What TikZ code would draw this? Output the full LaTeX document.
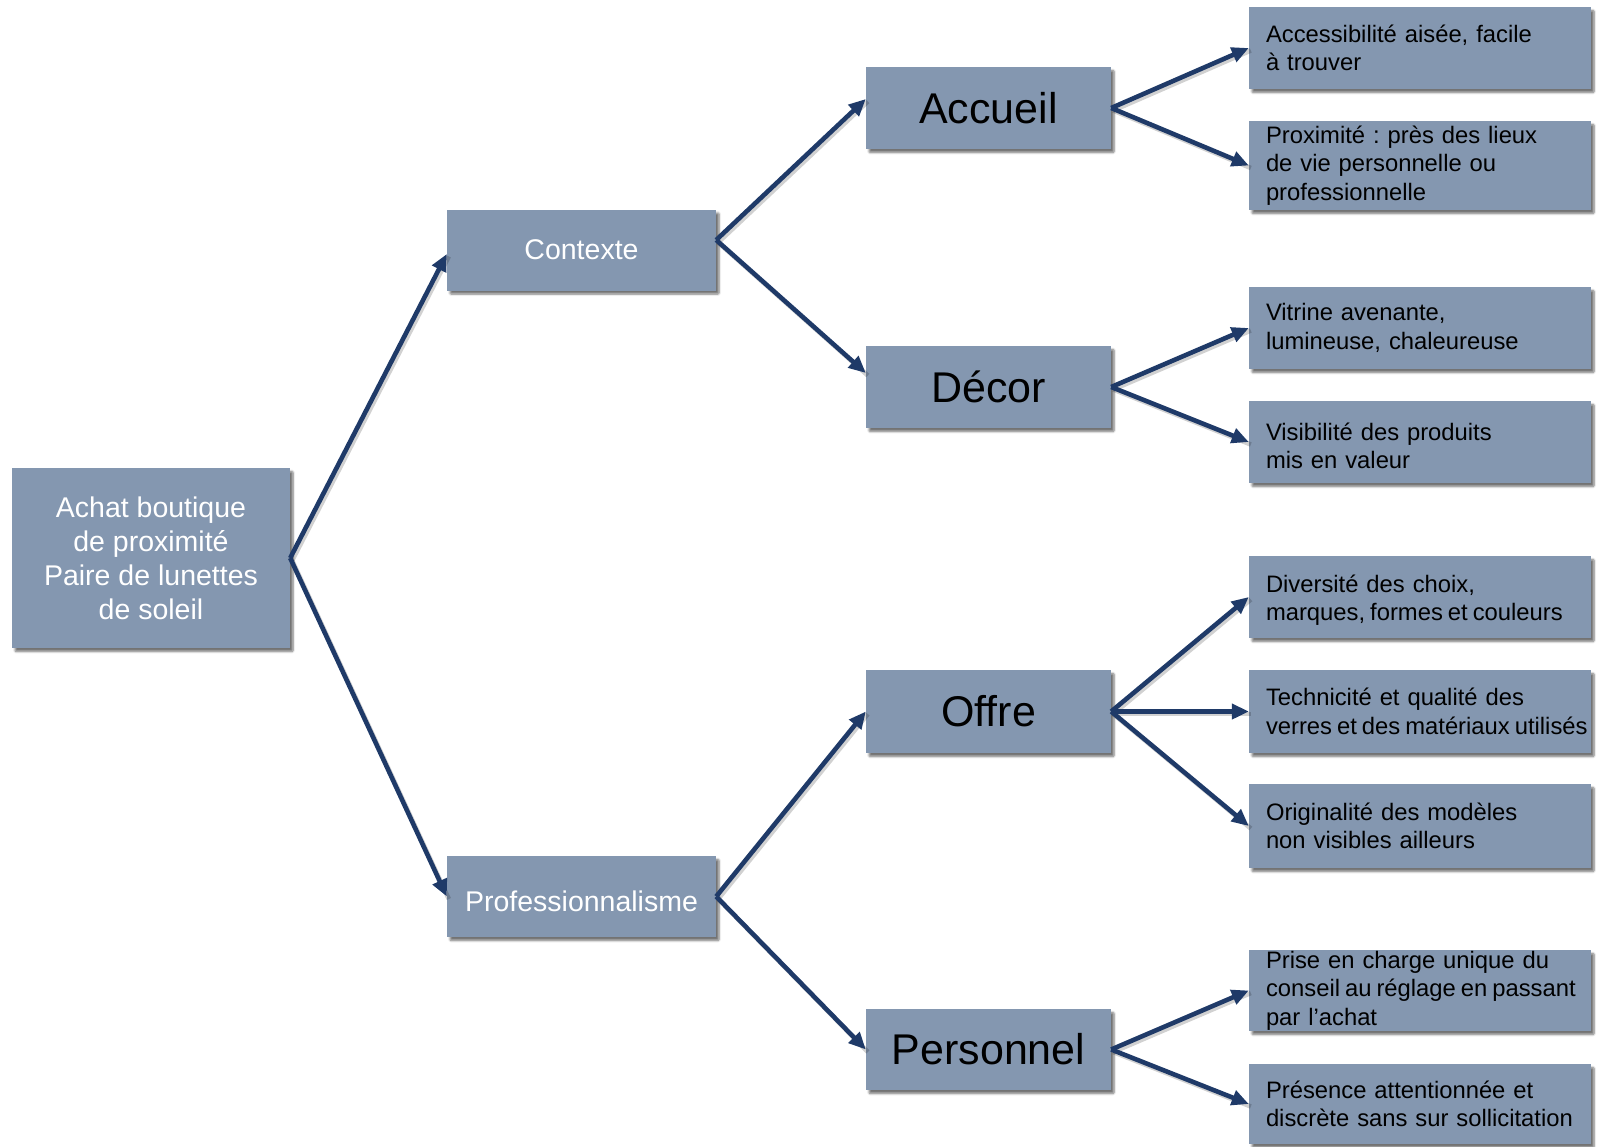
\documentclass[tikz,border=0pt]{standalone}
\usepackage{fontspec}
\setmainfont{Liberation Sans}
\usetikzlibrary{arrows.meta,shadows,shadows.blur}
\definecolor{boxfill}{HTML}{8497B0}
\definecolor{arrowcol}{HTML}{1F3A68}
\frenchspacing
\newcommand{\tightline}[1]{\mbox{\spaceskip=5pt plus 1pt minus 1pt #1}}
\begin{document}
\begin{tikzpicture}[x=1pt,y=-1pt,
  base/.style={rectangle, fill=boxfill, draw=none, inner sep=0pt,
    blur shadow={shadow xshift=3pt, shadow yshift=-3.5pt, shadow blur steps=6, shadow opacity=55, shadow blur extra rounding=1pt}},
  rootbox/.style={base, minimum width=278pt, minimum height=180pt, text=white, align=center,
    font=\fontsize{28.5}{34}\selectfont},
  midbox/.style={base, minimum width=269pt, minimum height=81pt, text=white, align=center,
    font=\fontsize{28.5}{34}\selectfont},
  catbox/.style={base, minimum width=245pt, minimum height=82pt, text=black, align=center,
    font=\fontsize{43}{50}\selectfont},
  leafbox/.style={base, minimum width=342pt, minimum height=82pt, text=black, align=left,
    text width=308pt, inner xsep=17pt, font=\fontsize{23.8}{28.5}\selectfont},
  conn/.style={draw=arrowcol, line width=4.6pt, -{Triangle[length=17pt,width=15pt]},
    preaction={draw=black, opacity=0.18, line width=4.6pt, transform canvas={shift={(2pt,-2.5pt)}}, -}}
]
\useasboundingbox (0,0) rectangle (1601,1146);

\node[rootbox] (root) at (151,558) {Achat boutique\\ de proximité\\Paire de lunettes\\de soleil};

\node[midbox] (ctx) at (581.5,250) {Contexte};
\node[midbox] (pro) at (581.5,896.5) {\raisebox{-5pt}[\height][\depth]{Professionnalisme}};

\node[catbox] (acc) at (988.5,108) {Accueil};
\node[catbox] (dec) at (988.5,387) {Décor};
\node[catbox, minimum height=83pt] (off) at (988.5,711.5) {Offre};
\node[catbox, minimum height=81pt] (per) at (988.5,1049.5) {Personnel};

\node[leafbox] (l1) at (1420,48) {Accessibilité aisée, facile\\à trouver};
\node[leafbox, minimum height=89pt] (l2) at (1420,165.5) {Proximité : près des lieux\\de vie personnelle ou\\professionnelle};
\node[leafbox] (l3) at (1420,328) {Vitrine avenante,\\lumineuse, chaleureuse};
\node[leafbox] (l4) at (1420,442) {\raisebox{-4pt}[\height][\depth]{\parbox{308pt}{Visibilité des produits\\mis en valeur}}};
\node[leafbox] (l5) at (1420,597) {\raisebox{-3pt}[\height][\depth]{\parbox{308pt}{Diversité des choix,\\\tightline{marques, formes et couleurs}}}};
\node[leafbox, minimum height=83pt] (l6) at (1420,711.5) {Technicité et qualité des\\\tightline{verres et des matériaux utilisés}};
\node[leafbox, minimum height=84pt] (l7) at (1420,826) {Originalité des modèles\\non visibles ailleurs};
\node[leafbox, minimum height=81pt] (l8) at (1420,990.5) {Prise en charge unique du\\\tightline{conseil au réglage en passant}\\par l’achat};
\node[leafbox, minimum height=80pt] (l9) at (1420,1104) {Présence attentionnée et\\\mbox{discrète sans sur sollicitation}};

\draw[conn] (root.east) -- ([yshift=-4pt]ctx.west);
\draw[conn] (root.east) -- (pro.west);
\draw[conn] ([yshift=10pt]ctx.east) -- ([yshift=9pt]acc.west);
\draw[conn] ([yshift=10pt]ctx.east) -- ([yshift=14pt]dec.west);
\draw[conn] (pro.east) -- (off.west);
\draw[conn] (pro.east) -- (per.west);
\draw[conn] (acc.east) -- (l1.west);
\draw[conn] (acc.east) -- (l2.west);
\draw[conn] (dec.east) -- (l3.west);
\draw[conn] (dec.east) -- (l4.west);
\draw[conn] (off.east) -- (l5.west);
\draw[conn] (off.east) -- (l6.west);
\draw[conn] (off.east) -- (l7.west);
\draw[conn] (per.east) -- (l8.west);
\draw[conn] (per.east) -- (l9.west);
\end{tikzpicture}
\end{document}
